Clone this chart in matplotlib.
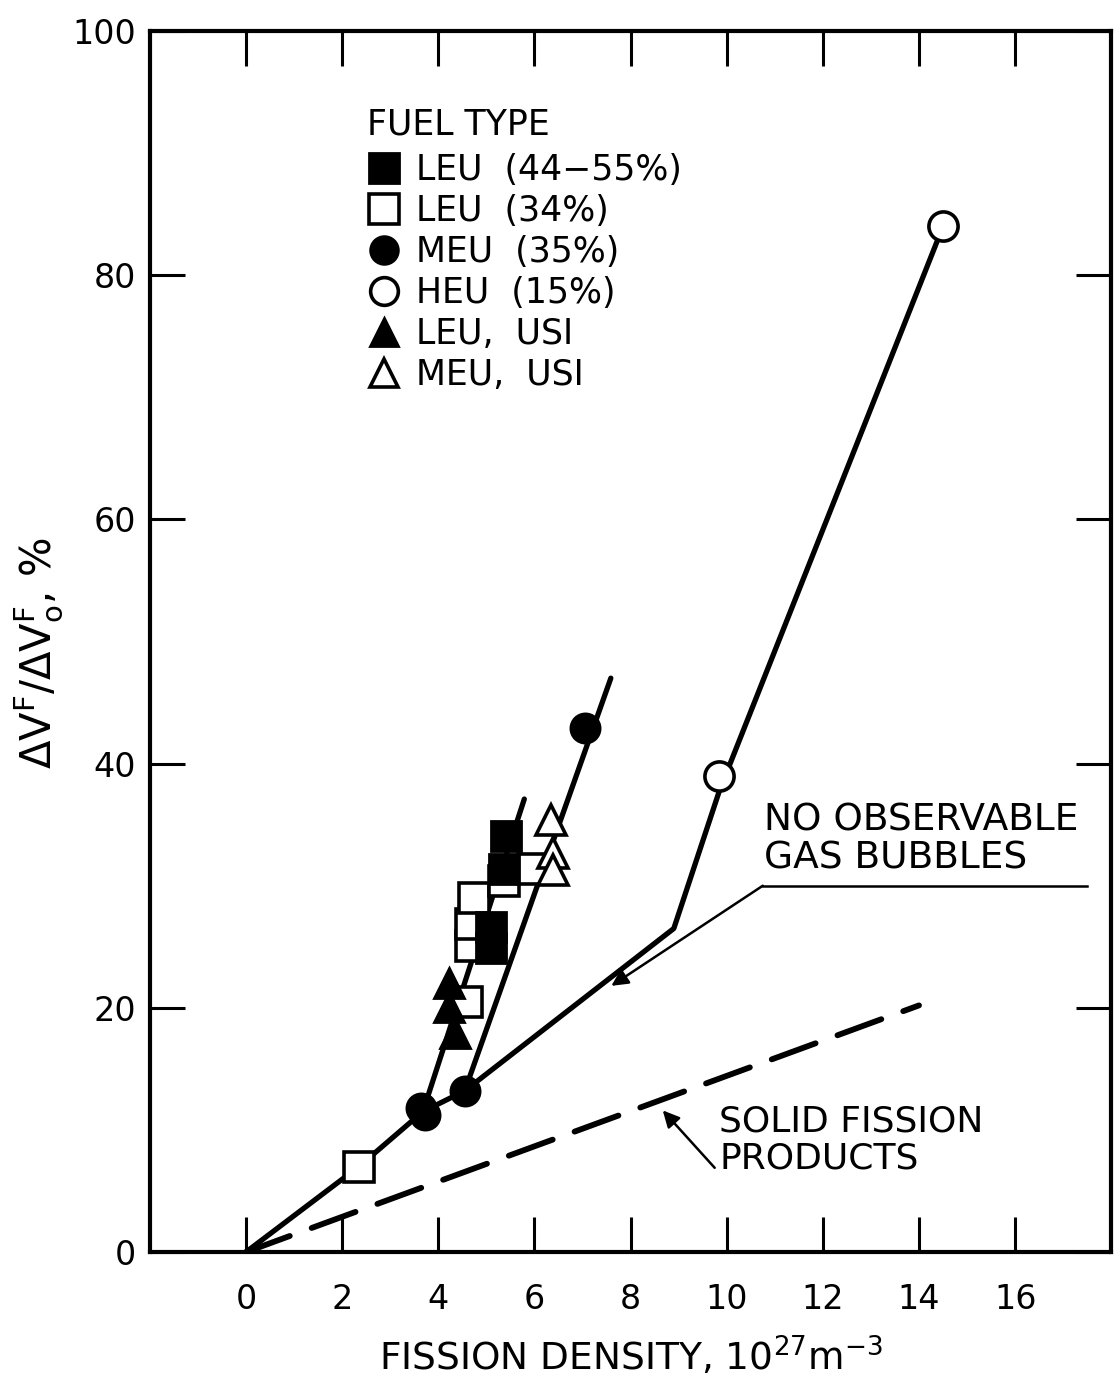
import numpy as np
import matplotlib
matplotlib.use('Agg')
import matplotlib.pyplot as plt

plt.rcParams['font.family'] = ['DejaVu Sans']
plt.rcParams['mathtext.fontset'] = 'dejavusans'

# ---- data (fission density 1e27 m^-3, swelling %) ----
leu_hi_x = [5.41, 5.37, 5.10, 5.10]          # LEU (44-55%)  filled squares
leu_hi_y = [34.1, 31.4, 26.6, 24.9]
leu34_x = [2.35, 4.59, 4.69, 4.69, 4.75, 5.37, 5.97]   # LEU (34%) open squares
leu34_y = [7.0, 20.5, 25.1, 26.9, 29.0, 30.4, 31.4]
meu35_x = [3.65, 3.72, 4.55, 7.05]            # MEU (35%) filled circles
meu35_y = [11.8, 11.2, 13.2, 42.9]
heu15_x = [9.85, 14.5]                        # HEU (15%) open circles
heu15_y = [39.0, 84.0]
leu_usi_x = [4.23, 4.23, 4.34]                # LEU, USI filled triangles
leu_usi_y = [22.0, 20.1, 17.9]
meu_usi_x = [6.35, 6.39, 6.39]                # MEU, USI open triangles
meu_usi_y = [35.4, 32.7, 31.3]

# fitted trend lines
main_x = [0.0, 2.35, 3.68, 4.55, 8.9, 9.85, 14.5]
main_y = [0.0, 7.0, 11.5, 13.2, 26.5, 37.8, 84.0]
leu_line_x = [3.68, 5.79]
leu_line_y = [11.5, 37.1]
meu_line_x = [4.55, 7.59]
meu_line_y = [13.2, 47.0]
solid_fp_x = [0.0, 14.0]
solid_fp_y = [0.0, 20.2]

fig = plt.figure(figsize=(11.18, 13.78), dpi=100)
ax = fig.add_axes([0.134, 0.0914, 0.860, 0.8861])

# lines
ax.plot(main_x, main_y, color='black', lw=3.8, solid_capstyle='round', zorder=2)
ax.plot(leu_line_x, leu_line_y, color='black', lw=3.8, solid_capstyle='round', zorder=2)
ax.plot(meu_line_x, meu_line_y, color='black', lw=3.8, solid_capstyle='round', zorder=2)
ax.plot(solid_fp_x, solid_fp_y, color='black', lw=4.2, dashes=(8, 4),
        dash_capstyle='round', zorder=2)

# markers
h1, = ax.plot(leu_hi_x, leu_hi_y, 's', ms=22, mfc='black', mec='black', mew=2,
              ls='none', label='LEU  (44\u221255%)', zorder=4)
h2, = ax.plot(leu34_x, leu34_y, 's', ms=22, mfc='white', mec='black', mew=2.6,
              ls='none', label='LEU  (34%)', zorder=3)
h3, = ax.plot(meu35_x, meu35_y, 'o', ms=21, mfc='black', mec='black', mew=2,
              ls='none', label='MEU  (35%)', zorder=4)
h4, = ax.plot(heu15_x, heu15_y, 'o', ms=21, mfc='white', mec='black', mew=2.6,
              ls='none', label='HEU  (15%)', zorder=4)
h5, = ax.plot(leu_usi_x, leu_usi_y, '^', ms=21, mfc='black', mec='black', mew=2,
              ls='none', label='LEU,  USI', zorder=4)
h6, = ax.plot(meu_usi_x, meu_usi_y, '^', ms=21, mfc='white', mec='black', mew=2.6,
              ls='none', label='MEU,  USI', zorder=4)

# annotations
ax.plot([17.5, 10.75], [30.0, 30.0], color='black', lw=1.8)
ax.annotate('', xy=(7.6, 21.8), xytext=(10.75, 30.0),
            arrowprops=dict(arrowstyle='-|>', color='black', lw=1.8,
                            mutation_scale=25, shrinkA=0, shrinkB=0))
ax.text(10.78, 33.8, 'NO OBSERVABLE\nGAS BUBBLES', fontsize=27, ha='left',
        va='center', linespacing=1.05)

ax.annotate('', xy=(8.67, 11.6), xytext=(9.75, 6.9),
            arrowprops=dict(arrowstyle='-|>', color='black', lw=1.8,
                            mutation_scale=25, shrinkA=0, shrinkB=0))
ax.text(9.85, 9.2, 'SOLID FISSION\nPRODUCTS', fontsize=26, ha='left',
        va='center', linespacing=1.1)

leg = ax.legend(handles=[h1, h2, h3, h4, h5, h6], title='FUEL TYPE',
                loc='upper left', bbox_to_anchor=(0.226, 0.937), frameon=False,
                fontsize=25, title_fontsize=25, alignment='left',
                handletextpad=0.4, labelspacing=0.2, handlelength=1.0,
                borderpad=0, borderaxespad=0, markerscale=0.95)
leg._legend_box.sep = 8

# axes
ax.set_xlim(-2, 18)
ax.set_ylim(0, 100)
ax.set_xticks(np.arange(0, 17, 2))
ax.set_yticks(np.arange(0, 101, 20))
ax.tick_params(direction='in', length=25, width=2.2, top=True, right=True,
               labelsize=24)
ax.tick_params(axis='x', pad=22)
ax.tick_params(axis='y', pad=10)
for s in ax.spines.values():
    s.set_linewidth(3)

ax.set_xlabel(r'FISSION DENSITY, 10$^{27}$m$^{-3}$', fontsize=27, labelpad=14)
ax.set_ylabel(r'$\Delta\mathrm{V}^\mathrm{F}/\Delta\mathrm{V}_\mathrm{o}^\mathrm{F}$, %',
              fontsize=30)
ax.yaxis.set_label_coords(-0.088, 0.49)

fig.savefig('out.png', dpi=100)
